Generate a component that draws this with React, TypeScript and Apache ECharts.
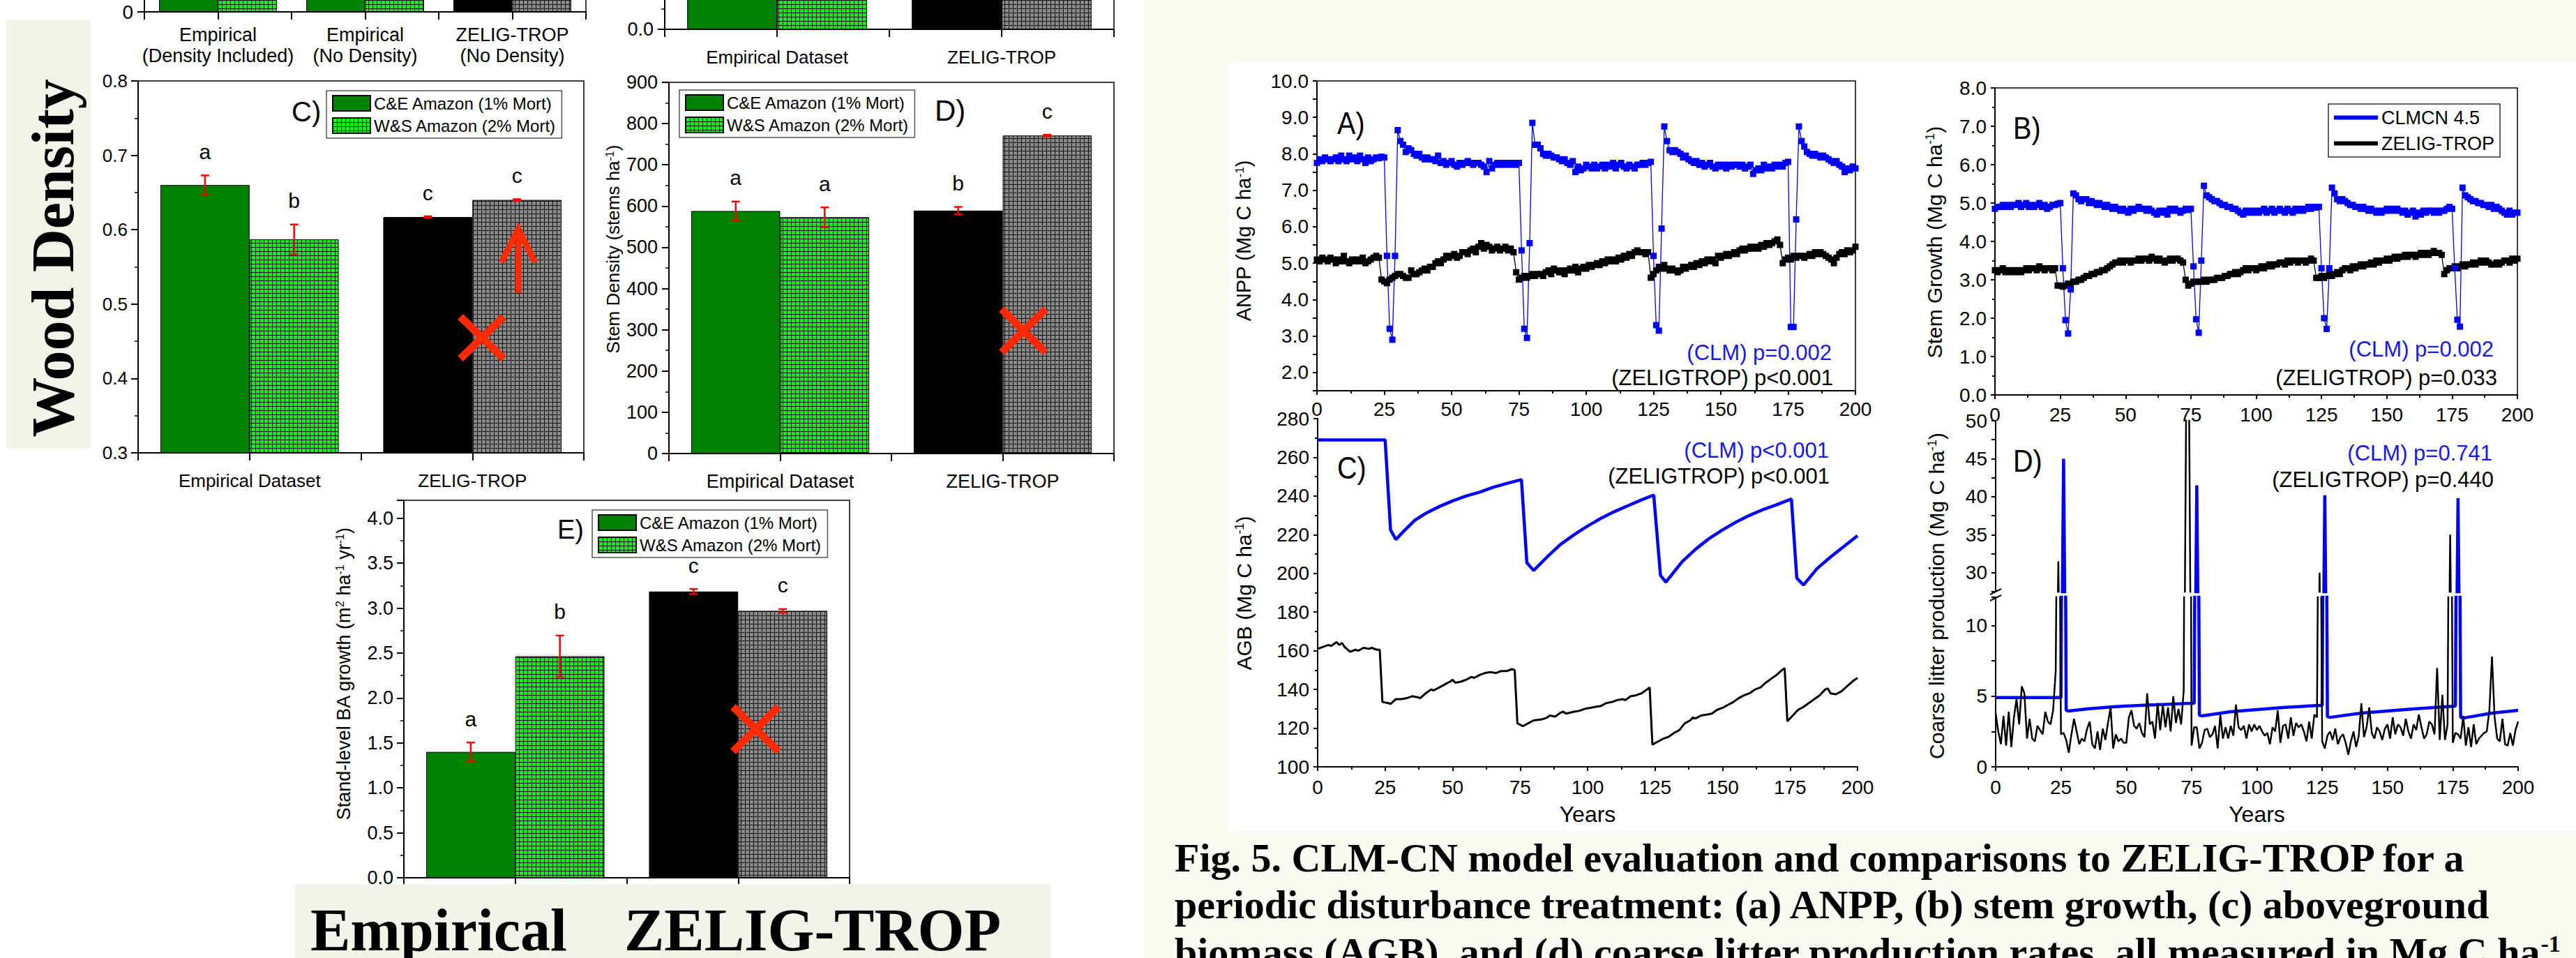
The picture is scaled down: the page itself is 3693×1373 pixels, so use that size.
import React, { useEffect, useRef } from 'react';
import * as echarts from 'echarts';

const SANS = '"Liberation Sans", Arial, Helvetica, sans-serif';
const SERIF = '"Liberation Serif", "Times New Roman", Times, serif';

const CE_NAME = 'C&E Amazon (1% Mort)';
const WS_NAME = 'W&S Amazon (2% Mort)';
const CLM_NAME = 'CLMCN 4.5';
const ZT_NAME = 'ZELIG-TROP';

// ---------- bar panels ----------
const CAT_TL = ['Empirical\n(Density Included)', 'Empirical\n(No Density)', 'ZELIG-TROP\n(No Density)'];
const TL_CE = [31.0, 29.5, 30.8];
const TL_WS = [28.4, 27.6, 33.1];

const CAT2 = ['Empirical Dataset', 'ZELIG-TROP'];
const TM_CE = [1.62, 1.78];
const TM_WS = [1.49, 1.95];

const WD_CE = [0.660, 0.617];
const WD_CE_ERR = [0.013, 0.001];
const WD_CE_LET = ['a', 'c'];
const WD_WS = [0.587, 0.640];
const WD_WS_ERR = [0.020, 0.001];
const WD_WS_LET = ['b', 'c'];

const SD_CE = [588, 589];
const SD_CE_ERR = [23, 9];
const SD_CE_LET = ['a', 'b'];
const SD_WS = [573, 771];
const SD_WS_ERR = [24, 2];
const SD_WS_LET = ['a', 'c'];

const BA_CE = [1.40, 3.185];
const BA_CE_ERR = [0.105, 0.028];
const BA_CE_LET = ['a', 'c'];
const BA_WS = [2.465, 2.97];
const BA_WS_ERR = [0.23, 0.02];
const BA_WS_LET = ['b', 'c'];

// ---------- time series (years 0..200) ----------
const YEARS = Array.from({ length: 201 }, (_, i) => i);

const ANPP_CLM = [
  7.75, 7.85, 7.80, 7.90, 7.85, 7.80, 7.85, 7.90, 7.80, 7.95,
  7.85, 7.80, 7.95, 7.85, 7.90, 7.80, 7.95, 7.85, 7.75, 7.90,
  7.80, 7.85, 7.90, 7.88, 7.92, 7.90, 5.20, 3.20, 2.90, 5.20,
  8.65, 8.35, 8.25, 8.05, 8.15, 8.10, 8.00, 7.95, 8.00, 7.90,
  7.85, 7.90, 7.85, 7.85, 7.80, 7.95, 7.75, 7.80, 7.70, 7.75,
  7.80, 7.70, 7.65, 7.75, 7.70, 7.75, 7.80, 7.75, 7.70, 7.75,
  7.75, 7.70, 7.65, 7.50, 7.80, 7.60, 7.70, 7.75, 7.70, 7.75,
  7.70, 7.75, 7.70, 7.75, 7.70, 7.75, 5.35, 3.20, 2.95, 5.55,
  8.85, 8.25, 8.25, 8.15, 8.00, 7.95, 8.00, 7.95, 7.90, 7.90,
  7.85, 7.80, 7.85, 7.75, 7.70, 7.80, 7.50, 7.65, 7.55, 7.60,
  7.70, 7.65, 7.60, 7.70, 7.60, 7.65, 7.70, 7.60, 7.70, 7.65,
  7.75, 7.60, 7.70, 7.75, 7.65, 7.60, 7.70, 7.65, 7.60, 7.70,
  7.70, 7.75, 7.70, 7.75, 7.78, 5.20, 3.30, 3.15, 5.95, 8.75,
  8.35, 8.10, 8.05, 8.10, 8.05, 8.00, 7.90, 7.95, 7.85, 7.80,
  7.75, 7.80, 7.70, 7.75, 7.65, 7.70, 7.75, 7.65, 7.60, 7.70,
  7.65, 7.70, 7.60, 7.70, 7.65, 7.70, 7.70, 7.65, 7.70, 7.60,
  7.65, 7.70, 7.45, 7.55, 7.60, 7.55, 7.70, 7.60, 7.65, 7.60,
  7.70, 7.65, 7.70, 7.65, 7.75, 7.78, 3.25, 3.25, 6.20, 8.75,
  8.35, 8.20, 8.05, 8.00, 7.95, 8.00, 7.95, 7.90, 7.95, 7.90,
  7.85, 7.80, 7.75, 7.80, 7.70, 7.65, 7.50, 7.60, 7.55, 7.65,
  7.60,
];

const ANPP_ZT = [
  5.10, 5.05, 5.15, 5.10, 5.05, 5.15, 5.10, 5.00, 5.10, 5.05,
  5.20, 5.05, 5.00, 5.10, 5.05, 5.10, 5.05, 5.15, 5.00, 5.05,
  5.10, 5.15, 5.20, 5.15, 4.55, 4.50, 4.45, 4.55, 4.60, 4.65,
  4.70, 4.70, 4.65, 4.60, 4.60, 4.80, 4.70, 4.70, 4.75, 4.80,
  4.85, 4.80, 4.90, 4.90, 5.00, 5.05, 5.00, 5.10, 5.20, 5.15,
  5.20, 5.25, 5.15, 5.20, 5.30, 5.30, 5.25, 5.35, 5.40, 5.30,
  5.45, 5.55, 5.40, 5.50, 5.45, 5.35, 5.40, 5.45, 5.35, 5.40,
  5.45, 5.35, 5.40, 5.30, 4.75, 4.55, 4.60, 4.65, 4.60, 4.65,
  4.70, 4.65, 4.70, 4.70, 4.65, 4.75, 4.80, 4.70, 4.85, 4.80,
  4.75, 4.80, 4.70, 4.80, 4.85, 4.80, 4.90, 4.75, 4.85, 4.90,
  4.85, 4.95, 4.90, 4.95, 5.00, 4.95, 5.05, 5.00, 5.10, 5.05,
  5.10, 5.05, 5.15, 5.10, 5.20, 5.15, 5.25, 5.20, 5.30, 5.35,
  5.30, 5.30, 5.25, 5.30, 4.60, 4.70, 4.80, 4.90, 4.85, 4.95,
  4.85, 4.80, 4.85, 4.80, 4.75, 4.80, 4.90, 4.85, 4.90, 4.95,
  4.90, 5.00, 4.95, 5.05, 5.00, 5.10, 5.05, 5.10, 5.00, 5.20,
  5.15, 5.20, 5.25, 5.20, 5.25, 5.30, 5.25, 5.35, 5.40, 5.35,
  5.40, 5.45, 5.40, 5.45, 5.40, 5.50, 5.45, 5.55, 5.50, 5.55,
  5.60, 5.65, 5.50, 5.00, 5.10, 5.15, 5.10, 5.20, 5.15, 5.20,
  5.20, 5.15, 5.20, 5.25, 5.20, 5.30, 5.25, 5.30, 5.25, 5.20,
  5.15, 5.10, 5.00, 5.15, 5.25, 5.30, 5.25, 5.35, 5.30, 5.35,
  5.45,
];

const STEM_CLM = [
  4.85, 4.90, 4.90, 4.95, 4.90, 4.95, 4.90, 4.95, 4.95, 5.00,
  4.90, 4.95, 5.00, 4.90, 4.95, 4.90, 4.95, 5.00, 4.90, 4.95,
  4.85, 4.90, 4.95, 4.95, 4.98, 5.00, 3.30, 1.95, 1.60, 2.75,
  5.25, 5.20, 5.10, 5.05, 5.10, 5.10, 5.00, 5.05, 5.00, 4.95,
  5.00, 4.95, 4.90, 4.95, 4.90, 4.85, 4.90, 4.85, 4.80, 4.85,
  4.80, 4.75, 4.85, 4.80, 4.85, 4.90, 4.85, 4.85, 4.80, 4.85,
  4.80, 4.75, 4.70, 4.80, 4.75, 4.80, 4.70, 4.85, 4.80, 4.85,
  4.80, 4.75, 4.80, 4.85, 4.82, 4.85, 3.35, 1.97, 1.62, 3.50,
  5.45, 5.20, 5.15, 5.10, 5.05, 5.05, 5.00, 4.95, 4.95, 4.90,
  4.90, 4.85, 4.85, 4.80, 4.75, 4.70, 4.80, 4.75, 4.80, 4.75,
  4.80, 4.75, 4.80, 4.85, 4.75, 4.80, 4.85, 4.75, 4.80, 4.85,
  4.80, 4.75, 4.85, 4.80, 4.75, 4.85, 4.80, 4.85, 4.80, 4.85,
  4.90, 4.85, 4.90, 4.88, 4.90, 3.30, 2.00, 1.72, 3.30, 5.40,
  5.25, 5.10, 5.05, 5.10, 5.05, 5.00, 4.95, 4.95, 4.90, 4.90,
  4.85, 4.90, 4.85, 4.80, 4.85, 4.80, 4.75, 4.80, 4.75, 4.80,
  4.85, 4.80, 4.85, 4.80, 4.85, 4.80, 4.75, 4.80, 4.70, 4.75,
  4.80, 4.65, 4.75, 4.70, 4.80, 4.75, 4.80, 4.80, 4.75, 4.80,
  4.75, 4.80, 4.80, 4.85, 4.90, 4.85, 3.30, 1.96, 1.78, 5.40,
  5.20, 5.15, 5.10, 5.05, 5.05, 5.00, 5.00, 4.95, 4.95, 4.90,
  4.95, 4.85, 4.90, 4.85, 4.80, 4.75, 4.70, 4.80, 4.70, 4.75,
  4.75,
];

const STEM_ZT = [
  3.25, 3.20, 3.25, 3.30, 3.20, 3.25, 3.20, 3.25, 3.20, 3.25,
  3.20, 3.25, 3.30, 3.25, 3.30, 3.30, 3.25, 3.35, 3.30, 3.25,
  3.30, 3.30, 3.25, 3.30, 2.85, 2.85, 2.82, 2.85, 2.90, 2.90,
  2.95, 2.95, 3.00, 3.00, 3.05, 3.10, 3.10, 3.15, 3.15, 3.20,
  3.20, 3.25, 3.25, 3.30, 3.35, 3.40, 3.45, 3.45, 3.50, 3.45,
  3.50, 3.50, 3.45, 3.50, 3.50, 3.55, 3.50, 3.55, 3.55, 3.50,
  3.60, 3.55, 3.50, 3.55, 3.50, 3.45, 3.50, 3.55, 3.50, 3.55,
  3.55, 3.50, 3.45, 3.00, 2.85, 2.90, 2.95, 2.95, 2.95, 2.95,
  3.00, 2.95, 3.00, 3.00, 3.00, 3.05, 3.05, 3.05, 3.10, 3.10,
  3.15, 3.15, 3.20, 3.15, 3.20, 3.25, 3.30, 3.25, 3.30, 3.30,
  3.25, 3.30, 3.35, 3.30, 3.35, 3.40, 3.35, 3.40, 3.40, 3.45,
  3.45, 3.40, 3.50, 3.45, 3.50, 3.50, 3.45, 3.50, 3.50, 3.45,
  3.50, 3.55, 3.50, 3.05, 3.05, 3.10, 3.05, 3.10, 3.15, 3.10,
  3.15, 3.20, 3.15, 3.25, 3.30, 3.30, 3.25, 3.35, 3.30, 3.35,
  3.40, 3.35, 3.40, 3.40, 3.45, 3.40, 3.50, 3.45, 3.50, 3.50,
  3.55, 3.50, 3.55, 3.60, 3.55, 3.60, 3.60, 3.65, 3.60, 3.65,
  3.65, 3.60, 3.65, 3.70, 3.65, 3.70, 3.65, 3.70, 3.75, 3.70,
  3.70, 3.65, 3.15, 3.25, 3.30, 3.30, 3.35, 3.30, 3.35, 3.40,
  3.35, 3.40, 3.40, 3.45, 3.40, 3.45, 3.50, 3.45, 3.50, 3.45,
  3.40, 3.40, 3.45, 3.40, 3.45, 3.50, 3.50, 3.45, 3.55, 3.50,
  3.55,
];

// AGB, [year, value]
const AGB_CLM = [
  [0, 269], [25, 269], [27, 222.5], [29, 217.5], [32, 222], [36, 227.5], [40, 231], [45, 234.5],
  [50, 237.5], [55, 240], [60, 242], [65, 244.5], [70, 246.5], [75.5, 248.5], [77.5, 205.5],
  [80, 201.5], [85, 208.5], [90, 215], [95, 220], [100, 224.5], [105, 228.5], [110, 232],
  [115, 235], [120, 238], [124.5, 240.5], [127, 199], [129, 195.5], [135, 206], [140, 212.5],
  [145, 218], [150, 222.5], [155, 226.5], [160, 230], [165, 233], [170, 235.5], [175.5, 238.5],
  [177.5, 197.5], [180, 194], [185, 202.5], [190, 208.5], [195, 214], [200, 219.5],
];

const AGB_ZT = [
  [0, 161], [2, 162], [4, 163], [5, 162.5], [7, 164.5], [8, 163], [9, 164], [10, 162], [12, 159.5],
  [14, 160.5], [15, 160], [17, 161.5], [19, 161], [20, 161.5], [22, 160.5], [23, 160.5], [24, 133.5],
  [26, 133], [27, 132.5], [29, 135], [31, 135], [33, 135.5], [35, 136.5], [37, 136], [38, 135.5],
  [40, 138], [42, 140], [43, 139.5], [45, 141], [47, 142.5], [49, 144], [50, 145], [51, 143.5],
  [53, 144], [55, 145], [57, 146.5], [58, 146], [60, 147.5], [62, 148.5], [64, 149], [66, 148.5],
  [68, 149.5], [70, 149.5], [72, 150.5], [73, 150], [74, 122.5], [76, 121], [78, 122.5], [80, 124],
  [83, 124.5], [85, 125.5], [86, 126.5], [88, 126], [90, 128], [91, 128.5], [92, 127.5], [95, 128.5],
  [97, 129], [99, 130], [101, 130.5], [103, 131], [105, 131.5], [107, 133], [109, 133.5], [111, 134.5],
  [113, 135], [114, 134.5], [116, 136.5], [118, 137], [120, 138], [122, 140], [123, 141], [124, 111.5],
  [126, 113], [128, 114.5], [130, 115.5], [132, 117.5], [134, 119], [136, 122.5], [138, 124], [139, 125.5],
  [140, 125], [142, 126.5], [144, 127], [146, 127.5], [148, 129.5], [150, 130.5], [152, 132], [154, 133.5],
  [156, 135.5], [158, 137], [160, 138], [162, 140], [164, 141], [166, 143.5], [168, 145.5], [170, 147.5],
  [172, 150], [173, 151], [174, 123.5], [176, 126.5], [178, 129.5], [180, 131], [182, 133], [184, 135],
  [186, 137], [188, 140], [189, 140.5], [190, 138], [192, 137.5], [194, 139], [196, 141.5], [198, 144],
  [200, 146],
];

// Coarse litter production
const LITTER_CLM = [
  [0, 4.9], [25, 4.9], [26, 45], [27, 4.0], [28, 3.95], [35, 4.1], [45, 4.25], [55, 4.35], [65, 4.42],
  [75, 4.5], [76, 4.5], [77, 41.5], [78, 3.65], [79, 3.6], [90, 3.9], [100, 4.05], [110, 4.2],
  [124, 4.35], [125, 4.35], [126, 40.2], [127, 3.55], [128, 3.5], [140, 3.8], [150, 3.95], [160, 4.1],
  [176, 4.3], [177, 39.8], [178, 3.5], [179, 3.45], [190, 3.8], [200, 4.0],
];

const LITTER_ZT = [
  3.8, 2.5, 1.6, 3.6, 1.5, 3.9, 1.4, 3.5, 4.8, 3.0,
  5.7, 5.2, 2.0, 3.4, 2.0, 1.8, 2.9, 2.6, 2.3, 3.9,
  3.2, 3.0, 4.0, 6.8, 31.5, 2.3, 2.4, 1.9, 1.0, 2.3,
  3.4, 2.5, 1.6, 2.0, 1.8, 2.7, 3.2, 1.6, 1.3, 2.5,
  1.2, 2.7, 1.9, 3.1, 4.2, 1.3, 2.3, 1.8, 2.0, 1.7,
  1.7, 3.5, 4.0, 2.9, 2.7, 3.1, 2.4, 2.1, 5.2, 3.0,
  3.2, 2.0, 4.5, 2.6, 4.4, 2.8, 4.2, 2.5, 5.0, 3.1,
  4.1, 3.0, 5.4, 55, 55, 1.5, 2.8, 2.8, 1.3, 1.7,
  2.6, 2.7, 2.1, 2.3, 2.9, 1.3, 3.7, 2.0, 2.8, 2.0,
  2.9, 2.2, 4.4, 2.8, 2.6, 2.9, 2.0, 3.0, 2.5, 3.0,
  2.6, 2.9, 2.5, 2.2, 2.4, 1.6, 2.8, 2.5, 4.0, 1.7,
  2.9, 3.0, 2.0, 3.5, 2.2, 3.1, 2.8, 3.0, 2.5, 1.8,
  3.2, 2.0, 3.7, 3.5, 30.0, 1.8, 1.3, 2.2, 2.5, 1.9,
  2.7, 1.6, 2.1, 2.3, 1.7, 0.85, 1.8, 2.5, 1.4, 2.2,
  4.5, 2.1, 2.8, 4.2, 2.4, 2.0, 2.8, 2.5, 1.9, 2.7,
  3.0, 2.0, 3.5, 2.3, 3.0, 2.8, 2.2, 3.4, 2.5, 2.0,
  3.0, 2.6, 3.7, 2.8, 2.0, 2.3, 3.2, 3.0, 2.3, 7.0,
  1.9, 5.1, 1.9, 3.0, 35.0, 1.7, 2.4, 2.3, 2.0, 3.6,
  1.5, 2.8, 1.4, 3.0, 1.6, 2.0, 2.2, 2.4, 2.5, 4.0,
  7.8, 3.5, 2.0, 1.8, 3.4, 1.6, 1.5, 2.4, 1.5, 2.6,
  3.2,
];

const X_TICKS = { min: 0, max: 200, interval: 25 };

// ---------- helpers ----------
function makePattern(fill: string, line: string) {
  const c = document.createElement('canvas');
  c.width = 6;
  c.height = 6;
  const g = c.getContext('2d')!;
  g.fillStyle = fill;
  g.fillRect(0, 0, 6, 6);
  g.fillStyle = line;
  g.fillRect(0, 0, 6, 1);
  g.fillRect(0, 0, 1, 6);
  return { image: c.toDataURL(), repeat: 'repeat', imageWidth: 6, imageHeight: 6 };
}

const pairs = (ys: number[]) => YEARS.map((y, i) => [y, ys[i]]);
const fmt1 = (v: number) => v.toFixed(1);
const fmtInt = (v: number) => String(Math.round(v));
const fmtZeroInt = (v: number) => (Math.abs(v) < 1e-9 ? '0' : '');
const fmtZero1 = (v: number) => (Math.abs(v) < 1e-9 ? '0.0' : '');
const fmtIntegerOnly1 = (v: number) => (Math.abs(v - Math.round(v)) < 1e-6 ? v.toFixed(1) : '');
const fmtHalf1 = (v: number) => (Math.abs(v * 2 - Math.round(v * 2)) < 1e-6 ? v.toFixed(1) : '');
const fmtFives = (v: number) => (Math.abs(v / 5 - Math.round(v / 5)) < 1e-6 ? String(Math.round(v)) : '');

function buildOption() {
  const greenPat = makePattern('#00ff00', '#000000');
  const grayPat = makePattern('#8a8a8a', '#111111');
  const AX = { color: '#000', width: 2 };
  const grids: any[] = [];
  const xAxis: any[] = [];
  const yAxis: any[] = [];
  const series: any[] = [];
  const legend: any[] = [];

  function errSeries(xi: number, yi: number, vals: number[], errs: number[], lets: string[], side: number) {
    return {
      type: 'custom', xAxisIndex: xi, yAxisIndex: yi, z: 10, silent: true,
      data: vals.map((v, i) => [i, v, errs[i]]),
      renderItem: (params: any, api: any) => {
        const i = api.value(0);
        const v = api.value(1);
        const e = api.value(2);
        const band = api.size([1, 0])[0];
        const c = api.coord([i, v]);
        const x = c[0] + side * band * 0.2;
        const yt = api.coord([i, v + e])[1];
        const yb = api.coord([i, v - e])[1];
        const st = { stroke: '#ff0000', lineWidth: 2.5 };
        return {
          type: 'group',
          children: [
            { type: 'line', shape: { x1: x, y1: yt, x2: x, y2: yb }, style: st },
            { type: 'line', shape: { x1: x - 6, y1: yt, x2: x + 6, y2: yt }, style: st },
            { type: 'line', shape: { x1: x - 6, y1: yb, x2: x + 6, y2: yb }, style: st },
            {
              type: 'text', x, y: yt - 34,
              style: { text: lets[params.dataIndex], fill: '#000', fontSize: 30, fontFamily: SANS, align: 'center', verticalAlign: 'middle' },
            },
          ],
        };
      },
    };
  }

  function pushGrid(p: any, show: boolean) {
    grids.push({
      left: p.left, top: p.top, width: p.width, height: p.height, show, borderColor: '#000', borderWidth: 1.5,
      backgroundColor: 'transparent', containLabel: false, outerBoundsMode: 'none',
    });
    return grids.length - 1;
  }

  function barPanel(p: any) {
    const gi = pushGrid(p, true);
    const xi = xAxis.length;
    xAxis.push({
      type: 'category', gridIndex: gi, data: p.cats, position: 'bottom',
      axisLine: { show: true, onZero: false, lineStyle: AX }, axisTick: { show: false },
      axisLabel: { show: p.showLabels !== false, interval: 0, hideOverlap: false, color: '#000', fontFamily: SANS, fontSize: p.catFont, margin: p.catMargin, lineHeight: p.catLineHeight },
      splitLine: { show: false },
    });
    xAxis.push({
      type: 'category', gridIndex: gi, position: 'bottom', data: p.cats.flatMap((_: string, i: number) => ['l' + i, 'r' + i]),
      axisLine: { show: false }, axisTick: { show: true, length: 11, lineStyle: AX }, axisLabel: { show: false }, splitLine: { show: false },
    });
    const yi = yAxis.length;
    yAxis.push({
      type: 'value', gridIndex: gi, min: p.y.min, max: p.y.max, interval: p.y.interval, position: 'left',
      axisLine: { show: true, onZero: false, lineStyle: AX }, axisTick: { show: true, length: 10, lineStyle: AX },
      minorTick: { show: true, splitNumber: 2, length: 5, lineStyle: { color: '#000', width: 1.5 } },
      splitLine: { show: false }, minorSplitLine: { show: false },
      axisLabel: { color: '#000', fontFamily: SANS, fontSize: p.y.font, margin: p.y.margin, formatter: p.y.fmt },
    });
    const isModel = (c: string) => c.startsWith('ZELIG');
    series.push({
      type: 'bar', name: CE_NAME, xAxisIndex: xi, yAxisIndex: yi, barGap: '0%', barCategoryGap: '20%', silent: true,
      itemStyle: { color: '#008000', borderColor: '#000', borderWidth: 1 },
      data: p.ce.map((v: number, i: number) => ({ value: v, itemStyle: { color: isModel(p.cats[i]) ? '#000000' : '#008000' } })),
    });
    series.push({
      type: 'bar', name: WS_NAME, xAxisIndex: xi, yAxisIndex: yi, barGap: '0%', barCategoryGap: '20%', silent: true,
      itemStyle: { color: greenPat, borderColor: '#000', borderWidth: 1 },
      data: p.ws.map((v: number, i: number) => ({ value: v, itemStyle: { color: isModel(p.cats[i]) ? grayPat : greenPat } })),
    });
    if (p.ceErr) {
      series.push(errSeries(xi, yi, p.ce, p.ceErr, p.ceLet, -1));
      series.push(errSeries(xi, yi, p.ws, p.wsErr, p.wsLet, 1));
    }
    if (p.legend) {
      legend.push({
        data: [CE_NAME, WS_NAME], left: p.legend.left, top: p.legend.top, orient: 'vertical', icon: 'rect',
        itemWidth: 54, itemHeight: 22, itemGap: 8, padding: [6, 8, 6, 8], borderColor: '#555', borderWidth: 1.5,
        selectedMode: false, textStyle: { fontSize: 24, fontFamily: SANS, color: '#000' },
      });
    }
  }

  function linePanel(p: any) {
    const gi = pushGrid(p, !!p.frame);
    const xi = xAxis.length;
    xAxis.push({
      type: 'value', gridIndex: gi, ...X_TICKS, position: 'bottom', show: p.showX !== false,
      axisLine: { show: true, onZero: false, lineStyle: AX }, axisTick: { show: true, length: 6, lineStyle: AX },
      minorTick: { show: true, splitNumber: 2, length: 4, lineStyle: AX },
      splitLine: { show: false }, minorSplitLine: { show: false },
      axisLabel: { show: true, hideOverlap: false, color: '#000', fontFamily: SANS, fontSize: 28, margin: p.xMargin },
      name: p.xName || '', nameLocation: 'middle', nameGap: 52,
      nameTextStyle: { fontSize: 32, fontFamily: SANS, color: '#000' },
    });
    const yi = yAxis.length;
    yAxis.push({
      type: 'value', gridIndex: gi, min: p.y.min, max: p.y.max, interval: p.y.interval, position: 'left',
      axisLine: { show: true, onZero: false, lineStyle: AX }, axisTick: { show: true, length: 6, lineStyle: AX },
      minorTick: p.y.minor ? { show: true, splitNumber: 2, length: 4, lineStyle: AX } : { show: false },
      splitLine: { show: false }, minorSplitLine: { show: false },
      axisLabel: { color: '#000', hideOverlap: false, fontFamily: SANS, fontSize: 28, margin: 12, formatter: p.y.fmt },
    });
    if (p.rightLine) {
      yAxis.push({
        type: 'value', gridIndex: gi, position: 'right', min: 0, max: 1,
        axisLine: { show: true, lineStyle: AX }, axisTick: { show: false }, axisLabel: { show: false }, splitLine: { show: false },
      });
    }
    return { xi, yi };
  }

  function markerSeries(ax: any, name: string, color: string, data: number[][]) {
    series.push({
      type: 'line', name, xAxisIndex: ax.xi, yAxisIndex: ax.yi, data, silent: true,
      symbol: 'rect', symbolSize: 9, showSymbol: true, showAllSymbol: true,
      lineStyle: { color, width: 1.3 }, itemStyle: { color },
    });
  }
  function plainSeries(ax: any, name: string, color: string, width: number, data: number[][]) {
    series.push({
      type: 'line', name, xAxisIndex: ax.xi, yAxisIndex: ax.yi, data, silent: true,
      symbol: 'none', showSymbol: false, lineStyle: { color, width }, itemStyle: { color },
    });
  }

  // --- bar panels (the first two are only partly inside the picture) ---
  barPanel({
    left: 207, top: -300, width: 633, height: 317, cats: CAT_TL, ce: TL_CE, ws: TL_WS,
    catFont: 27, catMargin: 18, catLineHeight: 30,
    y: { min: 0, max: 40, interval: 10, font: 28, margin: 16, fmt: fmtZeroInt },
  });
  barPanel({
    left: 953, top: -248, width: 644, height: 290, cats: CAT2, ce: TM_CE, ws: TM_WS,
    catFont: 26, catMargin: 27,
    y: { min: 0, max: 2.5, interval: 0.5, font: 27, margin: 16, fmt: fmtZero1 },
  });
  barPanel({
    left: 198, top: 116, width: 639, height: 533, cats: CAT2, ce: WD_CE, ws: WD_WS,
    ceErr: WD_CE_ERR, wsErr: WD_WS_ERR, ceLet: WD_CE_LET, wsLet: WD_WS_LET,
    catFont: 26, catMargin: 27,
    y: { min: 0.3, max: 0.8, interval: 0.1, font: 26, margin: 15, fmt: fmt1 },
    legend: { left: 468, top: 130 },
  });
  barPanel({
    left: 959, top: 118, width: 638, height: 532, cats: CAT2, ce: SD_CE, ws: SD_WS,
    ceErr: SD_CE_ERR, wsErr: SD_WS_ERR, ceLet: SD_CE_LET, wsLet: SD_WS_LET,
    catFont: 27, catMargin: 26,
    y: { min: 0, max: 900, interval: 100, font: 27, margin: 16, fmt: fmtInt },
    legend: { left: 974, top: 129 },
  });
  barPanel({
    left: 579, top: 717, width: 639, height: 541, cats: CAT2, ce: BA_CE, ws: BA_WS,
    ceErr: BA_CE_ERR, wsErr: BA_WS_ERR, ceLet: BA_CE_LET, wsLet: BA_WS_LET,
    catFont: 26, catMargin: 27, showLabels: false,
    y: { min: 0, max: 4.2, interval: 0.5, font: 27, margin: 15, fmt: fmtHalf1 },
    legend: { left: 849, top: 731 },
  });

  // --- line panels ---
  const axA = linePanel({ left: 1888, top: 116, width: 772, height: 444, frame: true, xMargin: 12,
    y: { min: 1.5, max: 10, interval: 0.5, fmt: fmtIntegerOnly1 } });
  markerSeries(axA, ZT_NAME, '#000000', pairs(ANPP_ZT));
  markerSeries(axA, CLM_NAME, '#0000ff', pairs(ANPP_CLM));

  const axB = linePanel({ left: 2860, top: 126, width: 749, height: 440, frame: true, xMargin: 14,
    y: { min: 0, max: 8, interval: 1, minor: true, fmt: fmt1 } });
  markerSeries(axB, ZT_NAME, '#000000', pairs(STEM_ZT));
  markerSeries(axB, CLM_NAME, '#0000ff', pairs(STEM_CLM));
  legend.push({
    data: [CLM_NAME, ZT_NAME], left: 3338, top: 149, orient: 'vertical', icon: 'rect',
    itemWidth: 63, itemHeight: 6, itemGap: 10, padding: [6, 8, 6, 8], borderColor: '#333', borderWidth: 1.5,
    selectedMode: false, textStyle: { fontSize: 27, fontFamily: SANS, color: '#000' },
  });

  const axC2 = linePanel({ left: 1889, top: 600, width: 774, height: 499, frame: false, rightLine: true, xMargin: 15, xName: 'Years',
    y: { min: 100, max: 280, interval: 20, minor: true, fmt: fmtInt } });
  plainSeries(axC2, CLM_NAME, '#0000ff', 4.5, AGB_CLM);
  plainSeries(axC2, ZT_NAME, '#000000', 3, AGB_ZT);

  const axD2u = linePanel({ left: 2861, top: 603, width: 749, height: 245, frame: false, rightLine: true, showX: false,
    y: { min: 27.5, max: 50, interval: 2.5, fmt: fmtFives } });
  plainSeries(axD2u, CLM_NAME, '#0000ff', 4.5, LITTER_CLM);
  plainSeries(axD2u, ZT_NAME, '#000000', 2.5, pairs(LITTER_ZT));
  const axD2l = linePanel({ left: 2861, top: 856, width: 749, height: 243, frame: false, rightLine: true, xMargin: 15, xName: 'Years',
    y: { min: 0, max: 12, interval: 2.5, fmt: fmtFives } });
  plainSeries(axD2l, CLM_NAME, '#0000ff', 4.5, LITTER_CLM);
  plainSeries(axD2l, ZT_NAME, '#000000', 2.5, pairs(LITTER_ZT));

  // --- graphic layer ---
  const T = (x: number, y: number, text: string, o: any = {}, extra: any = {}) => ({
    type: 'text', x, y, z: 40, silent: true, ...extra,
    style: { text, fill: '#000', fontFamily: SANS, fontSize: 30, align: 'left', verticalAlign: 'middle', ...o },
  });
  const YT = (x: number, y: number, text: string, size: number) =>
    T(x, y, text, { fontSize: size, align: 'center', rich: { s: { fontSize: Math.round(size * 0.6), verticalAlign: 'top', fontFamily: SANS } } }, { rotation: Math.PI / 2 });
  const RED = '#ff2a00';
  const RL = (x1: number, y1: number, x2: number, y2: number, w = 11) => ({
    type: 'line', z: 45, silent: true, shape: { x1, y1, x2, y2 }, style: { stroke: RED, lineWidth: w, lineCap: 'butt' },
  });
  const BL = (x1: number, y1: number, x2: number, y2: number) => ({
    type: 'line', z: 45, silent: true, shape: { x1, y1, x2, y2 }, style: { stroke: '#000', lineWidth: 2 },
  });
  const BLUE_TXT = '#1717f0';
  const CAP = { fontSize: 58, fontWeight: 'bold', fontFamily: SERIF };

  const graphic: any[] = [
    { type: 'rect', z: -10, silent: true, shape: { x: 1640, y: 0, width: 2053, height: 1373 }, style: { fill: '#fbfbf3' } },
    { type: 'rect', z: -9, silent: true, shape: { x: 1762, y: 92, width: 1931, height: 1098 }, style: { fill: '#ffffff' } },
    { type: 'rect', z: -9, silent: true, shape: { x: 9, y: 28, width: 122, height: 615 }, style: { fill: '#f3f3ea' } },
    { type: 'rect', z: 30, silent: true, shape: { x: 423, y: 1267, width: 1084, height: 106 }, style: { fill: '#f3f3ea' } },

    T(76, 370, 'Wood Density', { fontSize: 86, fontWeight: 'bold', fontFamily: SERIF, align: 'center' }, { rotation: Math.PI / 2 }),
    T(445, 1333, 'Empirical', { fontSize: 86, fontWeight: 'bold', fontFamily: SERIF }),
    T(895, 1333, 'ZELIG-TROP', { fontSize: 86, fontWeight: 'bold', fontFamily: SERIF }),

    T(1684, 1229, 'Fig. 5. CLM-CN model evaluation and comparisons to ZELIG-TROP for a', CAP),
    T(1684, 1296, 'periodic disturbance treatment: (a) ANPP, (b) stem growth, (c) aboveground', CAP),
    T(1684, 1364, 'biomass (AGB), and (d) coarse litter production rates, all measured in Mg C ha{s|-1}', {
      ...CAP, rich: { s: { fontSize: 34, fontWeight: 'bold', fontFamily: SERIF, verticalAlign: 'top' } },
    }),

    // panel letters
    T(418, 160, 'C)', { fontSize: 40 }),
    T(1340, 158, 'D)', { fontSize: 42 }),
    T(799, 759, 'E)', { fontSize: 38 }),
    T(1917, 177, 'A)', { fontSize: 44 }, { scaleX: 0.9 }),
    T(2886, 184, 'B)', { fontSize: 44 }, { scaleX: 0.9 }),
    T(1917, 671, 'C)', { fontSize: 44 }, { scaleX: 0.9 }),
    T(2886, 661, 'D)', { fontSize: 44 }, { scaleX: 0.9 }),

    // y-axis titles
    YT(879, 357, 'Stem Density (stems ha{s|-1})', 26),
    YT(493, 966, 'Stand-level BA growth (m{s|2} ha{s|-1} yr{s|-1})', 27),
    YT(1783, 345, 'ANPP (Mg C ha{s|-1})', 29),
    YT(2773, 347, 'Stem Growth (Mg C ha{s|-1})', 30),
    YT(1783, 850, 'AGB (Mg C ha{s|-1})', 30),
    YT(2776, 854, 'Coarse litter production (Mg C ha{s|-1})', 30),

    // p-values
    T(2626, 505, '(CLM) p=0.002', { fontSize: 31, align: 'right', fill: BLUE_TXT }),
    T(2628, 541, '(ZELIGTROP) p<0.001', { fontSize: 31, align: 'right' }),
    T(3575, 500, '(CLM) p=0.002', { fontSize: 31, align: 'right', fill: BLUE_TXT }),
    T(3580, 541, '(ZELIGTROP) p=0.033', { fontSize: 31, align: 'right' }),
    T(2622, 645, '(CLM) p<0.001', { fontSize: 31, align: 'right', fill: BLUE_TXT }),
    T(2623, 682, '(ZELIGTROP) p<0.001', { fontSize: 31, align: 'right' }),
    T(3573, 649, '(CLM) p=0.741', { fontSize: 31, align: 'right', fill: BLUE_TXT }),
    T(3575, 687, '(ZELIGTROP) p=0.440', { fontSize: 31, align: 'right' }),

    // red annotations
    RL(660, 454, 722, 514), RL(722, 454, 660, 514),
    RL(743, 420, 743, 334, 9),
    { type: 'polyline', z: 45, silent: true, shape: { points: [[719, 376], [743, 328], [767, 376]] }, style: { stroke: RED, lineWidth: 9, fill: 'none', lineJoin: 'miter' } },
    RL(1436, 443, 1499, 505), RL(1499, 443, 1436, 505),
    RL(1051, 1013, 1116, 1077), RL(1116, 1013, 1051, 1077),

    // axis break marks
    BL(2853, 852, 2869, 844), BL(2853, 861, 2869, 853),
  ];

  return {
    animation: false,
    backgroundColor: '#ffffff',
    grid: grids,
    xAxis,
    yAxis,
    series,
    legend,
    graphic: { elements: graphic },
  };
}

export default function App() {
  const ref = useRef<HTMLDivElement>(null);
  useEffect(() => {
    document.body.style.margin = '0';
    const chart = echarts.init(ref.current!, null, { renderer: 'svg' });
    chart.setOption(buildOption() as any);
    return () => chart.dispose();
  }, []);
  return <div ref={ref} style={{ width: 3693, height: 1373 }} />;
}
